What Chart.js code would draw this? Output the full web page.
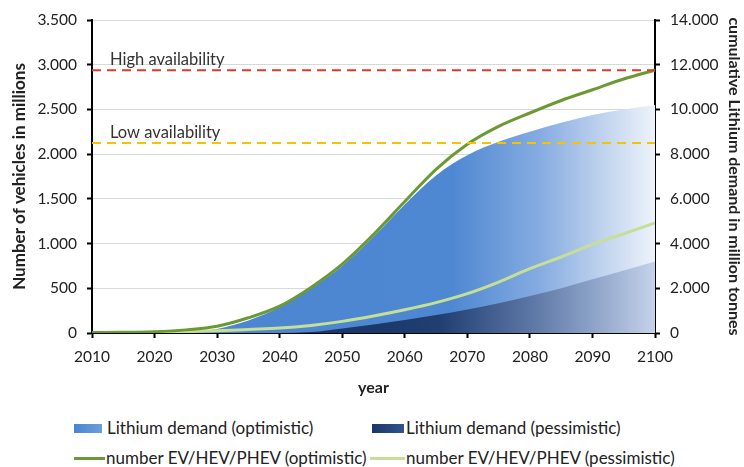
<!DOCTYPE html>
<html>
<head>
<meta charset="utf-8">
<script src="https://cdn.jsdelivr.net/npm/chart.js@4"></script>
<style>
  body { margin: 0; background: #fff; font-family: Lato, "Open Sans", sans-serif; }
  #wrap { position: relative; width: 744px; height: 467px; }
  #chartBox { position: absolute; left: 0; top: 0; width: 744px; height: 400px; }
  .item { position: absolute; font-size: 17px; color: #222; white-space: nowrap; line-height: 20px; }
  .sw { position: absolute; }
</style>
</head>
<body>
<div id="wrap">
  <div id="chartBox"><canvas id="chart"></canvas></div>
  <div class="sw" style="left:74px;top:424px;width:28px;height:9px;background:linear-gradient(90deg,#4a84cf,#6d9edb);"></div>
  <div class="item" style="left:107px;top:418px;">Lithium demand (optimistic)</div>
  <div class="sw" style="left:372px;top:424px;width:32px;height:9px;background:linear-gradient(90deg,#1b3768,#2f5590);"></div>
  <div class="item" style="left:406px;top:418px;">Lithium demand (pessimistic)</div>
  <div class="sw" style="left:74px;top:457px;width:31px;height:3px;background:#6b9a35;"></div>
  <div class="item" style="left:106px;top:448px;">number EV/HEV/PHEV (optimistic)</div>
  <div class="sw" style="left:370px;top:457px;width:35px;height:3px;background:#c6df96;"></div>
  <div class="item" style="left:406px;top:448px;">number EV/HEV/PHEV (pessimistic)</div>
</div>
<script>
// years on the x axis
const years = [2010, 2015, 2020, 2025, 2030, 2035, 2040, 2045, 2050, 2055, 2060, 2065, 2070, 2075, 2080, 2085, 2090, 2095, 2100];

// vehicles in millions (left axis)
const evOptimistic  = [5, 8, 15, 35, 75, 170, 300, 510, 770, 1100, 1470, 1830, 2110, 2310, 2460, 2600, 2720, 2840, 2940];
const evPessimistic = [3, 5, 8, 15, 25, 40, 55, 85, 130, 190, 260, 340, 440, 570, 720, 850, 990, 1110, 1230];

// cumulative lithium demand in million tonnes (right axis)
const lithiumOptimistic  = [0, 0, 10, 30, 180, 560, 1150, 2000, 3000, 4300, 5750, 7050, 7950, 8550, 9000, 9400, 9750, 10000, 10200];
const lithiumPessimistic = [0, 0, 0, 0, 0, 0, 0, 40, 200, 380, 580, 800, 1050, 1330, 1650, 2000, 2400, 2800, 3200];

// availability levels (right axis)
const availYears = [2010, 2100];
const highAvailability = 11750;
const lowAvailability = 8500;

function pts(ys, xs) {
    return ys.map((v, i) => ({ x: (xs || years)[i], y: v }));
}

function fmt(v) {
    return String(v).replace(/\B(?=(\d{3})+(?!\d))/g, '.');
}

function hGradient(stops) {
    return function (context) {
        const chart = context.chart;
        const area = chart.chartArea;
        if (!area) return null;
        const g = chart.ctx.createLinearGradient(area.left, 0, area.right, 0);
        stops.forEach(s => g.addColorStop(s[0], s[1]));
        return g;
    };
}

const availLabels = {
    id: 'availLabels',
    afterDatasetsDraw(chart) {
        const ctx = chart.ctx;
        const x = chart.scales.x.getPixelForValue(2010) + 18;
        const y2 = chart.scales.y2;
        ctx.save();
        ctx.font = '16.5px Lato, "Open Sans", sans-serif';
        ctx.fillStyle = '#333';
        ctx.textBaseline = 'alphabetic';
        ctx.fillText('High availability', x, y2.getPixelForValue(highAvailability) - 5);
        ctx.fillText('Low availability', x, y2.getPixelForValue(lowAvailability) - 5);
        ctx.restore();
    }
};

const FAM = 'Lato, "Open Sans", sans-serif';
const tickFont = { family: FAM, size: 15.5 };

new Chart(document.getElementById('chart'), {
    type: 'line',
    data: {
        datasets: [
            {
                label: 'number EV/HEV/PHEV (optimistic)',
                data: pts(evOptimistic),
                yAxisID: 'y',
                borderColor: '#6b9a35',
                borderWidth: 3,
                pointRadius: 0,
                cubicInterpolationMode: 'monotone',
                order: 1
            },
            {
                label: 'number EV/HEV/PHEV (pessimistic)',
                data: pts(evPessimistic),
                yAxisID: 'y',
                borderColor: '#c6df96',
                borderWidth: 3,
                pointRadius: 0,
                cubicInterpolationMode: 'monotone',
                order: 2
            },
            {
                label: 'Lithium demand (pessimistic)',
                data: pts(lithiumPessimistic),
                yAxisID: 'y2',
                borderWidth: 0,
                pointRadius: 0,
                fill: 'origin',
                cubicInterpolationMode: 'monotone',
                backgroundColor: hGradient([[0, '#1b3768'], [0.5, '#1b386a'], [0.62, '#223f73'], [0.78, '#5c77a5'], [0.89, '#8da3c8'], [1, '#c5d2ea']]),
                order: 3
            },
            {
                label: 'Lithium demand (optimistic)',
                data: pts(lithiumOptimistic),
                yAxisID: 'y2',
                borderWidth: 0,
                pointRadius: 0,
                fill: 'origin',
                cubicInterpolationMode: 'monotone',
                backgroundColor: hGradient([[0, '#4a84cf'], [0.64, '#4f88d2'], [0.8, '#87ade1'], [0.9, '#bcd0ed'], [1, '#eef3fb']]),
                order: 4
            },
            {
                label: 'High availability',
                data: pts([highAvailability, highAvailability], availYears),
                yAxisID: 'y2',
                borderColor: '#e0392b',
                borderWidth: 2,
                borderDash: [9, 6],
                pointRadius: 0,
                order: 0
            },
            {
                label: 'Low availability',
                data: pts([lowAvailability, lowAvailability], availYears),
                yAxisID: 'y2',
                borderColor: '#f5c400',
                borderWidth: 2,
                borderDash: [9, 6],
                pointRadius: 0,
                order: 0
            }
        ]
    },
    options: {
        responsive: true,
        maintainAspectRatio: false,
        animation: false,
        layout: { padding: { top: 20, left: 0, right: 0, bottom: 0 } },
        plugins: {
            legend: { display: false },
            tooltip: { enabled: false }
        },
        scales: {
            x: {
                type: 'linear',
                min: 2010,
                max: 2100,
                ticks: { stepSize: 10, color: '#222', font: tickFont, padding: 10, callback: v => String(v) },
                grid: { drawOnChartArea: false, tickColor: '#000', tickLength: 5, tickWidth: 2 },
                border: { color: '#000', width: 2 },
                title: { display: true, text: 'year', color: '#222', font: { family: FAM, size: 16, weight: 'bold' }, padding: { top: 0, bottom: 3 } },
                afterFit(scale) { scale.height = 67; }
            },
            y: {
                position: 'left',
                min: 0,
                max: 3500,
                ticks: { stepSize: 500, color: '#222', font: tickFont, padding: 10, callback: v => fmt(v) },
                grid: { color: '#d9d9d9', lineWidth: 1, tickColor: '#000', tickLength: 5, tickWidth: 2 },
                border: { color: '#000', width: 2 },
                title: { display: true, text: 'Number of vehicles in millions', color: '#222', font: { family: FAM, size: 17, weight: 'bold' }, padding: { top: 9, bottom: 0 } },
                afterFit(scale) { scale.width = 92; }
            },
            y2: {
                position: 'right',
                min: 0,
                max: 14000,
                ticks: { stepSize: 2000, color: '#222', font: tickFont, padding: 10, callback: v => fmt(v) },
                grid: { drawOnChartArea: false, tickColor: '#000', tickLength: 5, tickWidth: 2 },
                border: { color: '#000', width: 2 },
                title: { display: true, text: 'cumulative Lithium demand in million tonnes', color: '#222', font: { family: FAM, size: 16, weight: 'bold' }, padding: { top: 0, bottom: 0 } },
                afterFit(scale) { scale.width = 89; }
            }
        }
    },
    plugins: [availLabels]
});
</script>
</body>
</html>
